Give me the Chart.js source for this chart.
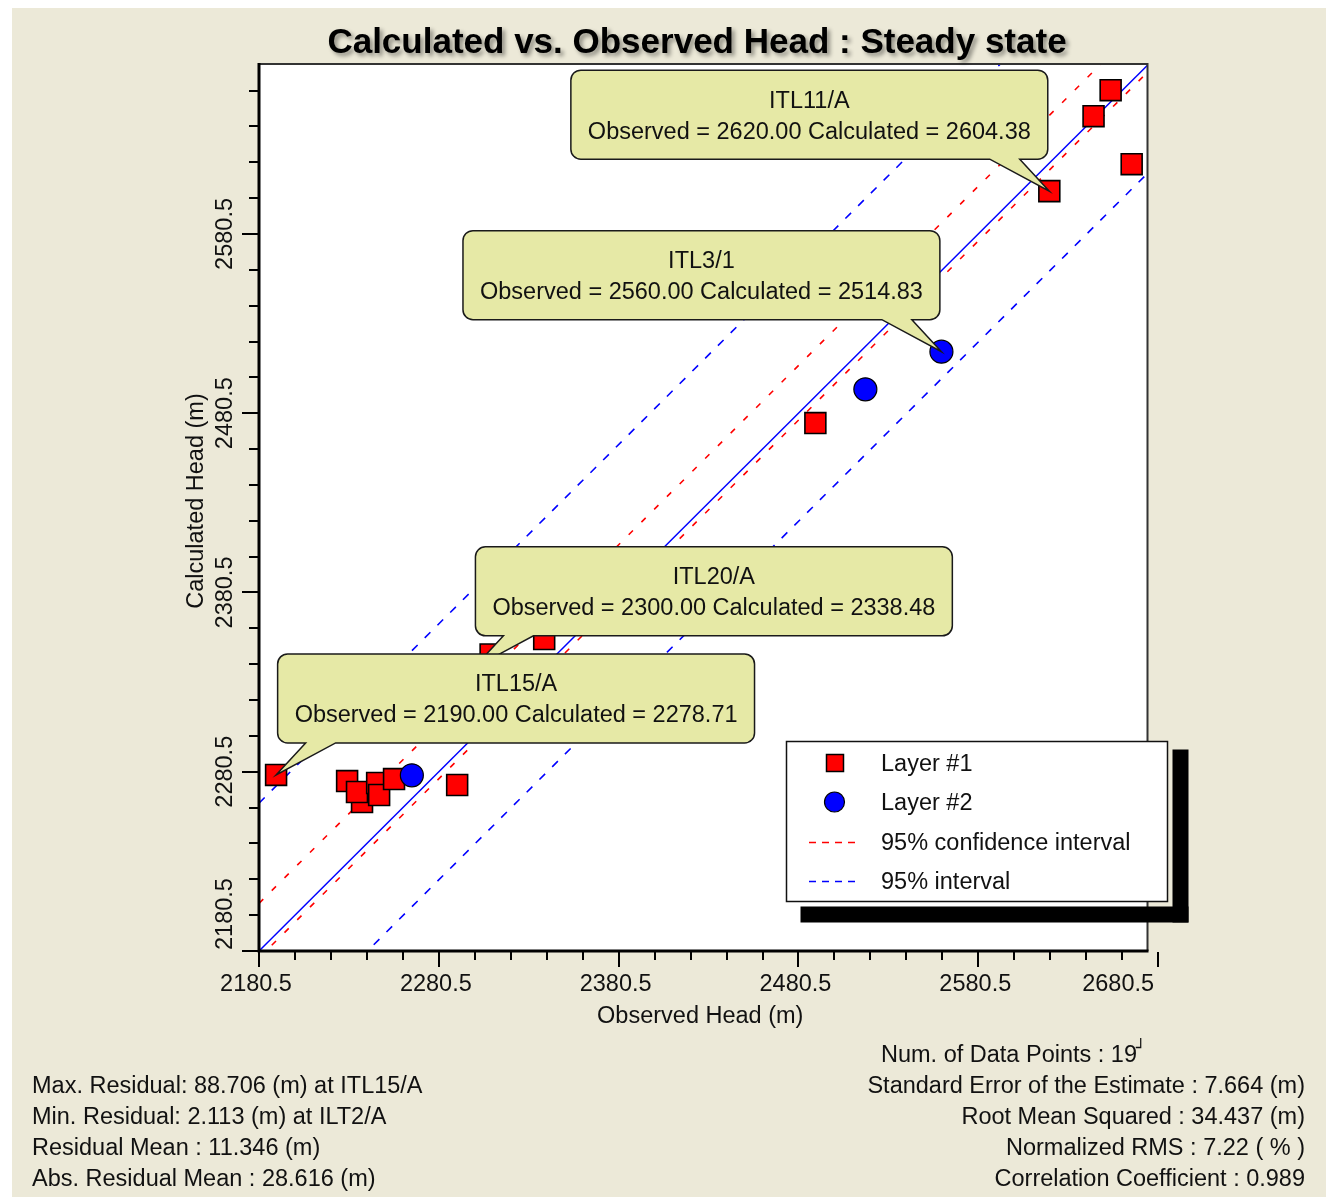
<!DOCTYPE html>
<html>
<head>
<meta charset="utf-8">
<title>Calculated vs. Observed Head : Steady state</title>
<script src="https://cdn.jsdelivr.net/npm/chart.js@4.4.1/dist/chart.umd.min.js"></script>
<style>
  html, body { margin: 0; padding: 0; background: #ffffff; }
  #wrap { width: 1329px; height: 1197px; }
  canvas { display: block; }
</style>
</head>
<body>
<div id="wrap"><canvas id="chart" width="1329" height="1197"></canvas></div>
<script>
// ---- Head targets (m): observed vs. calculated, steady state ----
const layer1Wells      = [null, 'ITL15/A', null, null, null, null, null, null, 'ITL20/A', null, null, null, 'ITL11/A', null, null, null];
const layer1Observed   = [2237.8, 2190.00, 2229.5, 2235.0, 2246.2, 2247.3, 2255.6, 2290.7, 2300.00, 2309.3, 2339.1, 2489.9, 2620.00, 2644.6, 2654.1, 2665.8];
const layer1Calculated = [2263.6, 2278.71, 2275.3, 2269.2, 2274.2, 2267.5, 2276.4, 2273.1, 2338.48, 2345.9, 2354.5, 2475.0, 2604.38, 2646.2, 2660.7, 2619.4];

const layer2Wells      = [null, null, 'ITL3/1'];
const layer2Observed   = [2265.5, 2517.7, 2560.00];
const layer2Calculated = [2278.5, 2493.8, 2514.83];

// offsets of the interval lines from the 1:1 line (m)
const confidenceOffsets = [26.6, -3.9];
const intervalOffsets   = [82.5, -60.3];

// axes
const xRange = [2180.5, 2674.6];
const yRange = [2180.5, 2675.3];
const xTickLabels = ['2180.5', '2280.5', '2380.5', '2480.5', '2580.5', '2680.5'];
const yTickLabels = ['2180.5', '2280.5', '2380.5', '2480.5', '2580.5'];
const minorStep = 20;

// wells that carry a label, in drawing order
const calloutWells = ['ITL11/A', 'ITL3/1', 'ITL20/A', 'ITL15/A'];

const legendLabels = ['Layer #1', 'Layer #2', '95% confidence interval', '95% interval'];

const statsLeft = [
  'Max. Residual: 88.706 (m) at ITL15/A',
  'Min. Residual: 2.113 (m) at ILT2/A',
  'Residual Mean : 11.346 (m)',
  'Abs. Residual Mean : 28.616 (m)'
];
const statsPointCount = 'Num. of Data Points : 19';
const statsRight = [
  'Standard Error of the Estimate : 7.664 (m)',
  'Root Mean Squared : 34.437 (m)',
  'Normalized RMS : 7.22 ( % )',
  'Correlation Coefficient : 0.989'
];

const titleText = 'Calculated vs. Observed Head : Steady state';
const xTitle = 'Observed Head (m)';
const yTitle = 'Calculated Head (m)';

// ---- styling ----
const FONT = '"Liberation Sans", Arial, Helvetica, sans-serif';
const TXT = 23.5;
const RED = '#ff0000';
const BLUE = '#0000ff';
const CALLOUT_FILL = '#e6e9a6';
const PANEL = '#ece9d8';

function pts(xs, ys) { return xs.map((x, i) => ({ x, y: ys[i] })); }
const lineX = [parseFloat(xTickLabels[0]), parseFloat(xTickLabels[xTickLabels.length - 1])];
function offsetLine(label, off, color, dash) {
  return {
    label, data: lineX.map(x => ({ x, y: x + off })),
    showLine: true, borderColor: color, borderWidth: 1.6, borderDash: dash,
    pointRadius: 0, fill: false, order: 3, clip: 0
  };
}

function font(size, bold) { return (bold ? 'bold ' : '') + size + 'px ' + FONT; }

function drawCallout(ctx, chart, name, obs, calc) {
  const xs = chart.scales.x, ys = chart.scales.y, area = chart.chartArea;
  const px = xs.getPixelForValue(obs), py = ys.getPixelForValue(calc);
  const line1 = name;
  const line2 = 'Observed = ' + obs.toFixed(2) + ' Calculated = ' + calc.toFixed(2);
  ctx.font = font(TXT);
  const w = Math.max(ctx.measureText(line1).width, ctx.measureText(line2).width) + 34;
  const h = 89;
  const toRight = px < (area.left + area.right) / 2;
  const cx = px + (toRight ? 240 : -240);
  const x = cx - w / 2, y = py - 76.5 - h / 2;
  const b1 = toRight ? x + 28 : x + w - 58;
  const b2 = b1 + 30;
  const r = 10;
  ctx.beginPath();
  ctx.moveTo(x + r, y);
  ctx.lineTo(x + w - r, y);
  ctx.arcTo(x + w, y, x + w, y + r, r);
  ctx.lineTo(x + w, y + h - r);
  ctx.arcTo(x + w, y + h, x + w - r, y + h, r);
  ctx.lineTo(b2, y + h);
  ctx.lineTo(px, py);
  ctx.lineTo(b1, y + h);
  ctx.lineTo(x + r, y + h);
  ctx.arcTo(x, y + h, x, y + h - r, r);
  ctx.lineTo(x, y + r);
  ctx.arcTo(x, y, x + r, y, r);
  ctx.closePath();
  ctx.fillStyle = CALLOUT_FILL;
  ctx.fill();
  ctx.lineWidth = 1.5;
  ctx.strokeStyle = '#1a1a1a';
  ctx.stroke();
  ctx.fillStyle = '#111';
  ctx.textAlign = 'center';
  ctx.textBaseline = 'alphabetic';
  const capHalf = 0.716 * TXT / 2;
  ctx.fillText(line1, cx, y + 29 + capHalf);
  ctx.fillText(line2, cx, y + 60 + capHalf);
}

const overlay = {
  id: 'overlay',
  beforeDraw(chart) {
    const { ctx, chartArea: a } = chart;
    ctx.save();
    ctx.fillStyle = '#ffffff';
    ctx.fillRect(0, 0, chart.width, chart.height);
    ctx.fillStyle = PANEL;
    ctx.fillRect(12, 8, 1314, 1189);
    ctx.fillStyle = '#ffffff';
    ctx.fillRect(a.left, a.top, a.right - a.left, a.bottom - a.top);
    ctx.restore();
  },
  afterDraw(chart) {
    const { ctx, chartArea: a } = chart;
    const xs = chart.scales.x, ys = chart.scales.y;
    const capHalf = 0.716 * TXT / 2;
    ctx.save();

    // plot frame
    ctx.strokeStyle = '#333';
    ctx.lineWidth = 2;
    ctx.beginPath();
    ctx.moveTo(a.left, a.top); ctx.lineTo(a.right, a.top); ctx.lineTo(a.right, a.bottom);
    ctx.stroke();
    ctx.strokeStyle = '#000';
    ctx.lineWidth = 3;
    ctx.beginPath();
    ctx.moveTo(a.left, a.top - 1); ctx.lineTo(a.left, a.bottom); ctx.lineTo(a.right + 1, a.bottom);
    ctx.stroke();

    // ticks
    const xMajor = xTickLabels.map(parseFloat);
    const yMajor = yTickLabels.map(parseFloat);
    ctx.lineWidth = 2;
    ctx.strokeStyle = '#000';
    for (let v = xMajor[0]; v <= xMajor[xMajor.length - 1] + 1e-6; v += minorStep) {
      const major = xMajor.some(m => Math.abs(m - v) < 1e-6);
      const p = Math.round(xs.getPixelForValue(v));
      ctx.beginPath();
      ctx.moveTo(p, a.bottom + 1);
      ctx.lineTo(p, a.bottom + (major ? 16 : 9));
      ctx.stroke();
    }
    for (let v = yMajor[0]; v <= yRange[1]; v += minorStep) {
      const major = yMajor.some(m => Math.abs(m - v) < 1e-6);
      const p = Math.round(ys.getPixelForValue(v));
      ctx.beginPath();
      ctx.moveTo(a.left - 1, p);
      ctx.lineTo(a.left - (major ? 17 : 10), p);
      ctx.stroke();
    }

    // tick labels
    ctx.fillStyle = '#111';
    ctx.font = font(TXT);
    ctx.textBaseline = 'alphabetic';
    xTickLabels.forEach((t, i) => {
      const p = xs.getPixelForValue(xMajor[i]);
      if (i === xTickLabels.length - 1) {
        ctx.textAlign = 'right';
        ctx.fillText(t, p - 4, 983 + capHalf);
      } else {
        ctx.textAlign = 'center';
        ctx.fillText(t, p - 3, 983 + capHalf);
      }
    });
    yTickLabels.forEach((t, i) => {
      const p = ys.getPixelForValue(yMajor[i]);
      ctx.save();
      ctx.translate(224 + capHalf, i === 0 ? p - 1 : p);
      ctx.rotate(-Math.PI / 2);
      ctx.textAlign = i === 0 ? 'left' : 'center';
      ctx.fillText(t, 0, 0);
      ctx.restore();
    });

    // axis titles
    ctx.textAlign = 'center';
    ctx.fillText(xTitle, (a.left + a.right) / 2 - 3, 1015 + capHalf);
    ctx.save();
    ctx.translate(195 + capHalf, 501);
    ctx.rotate(-Math.PI / 2);
    ctx.fillText(yTitle, 0, 0);
    ctx.restore();

    // labelled wells
    const lookup = {};
    layer1Wells.forEach((n, i) => { if (n) lookup[n] = [layer1Observed[i], layer1Calculated[i]]; });
    layer2Wells.forEach((n, i) => { if (n) lookup[n] = [layer2Observed[i], layer2Calculated[i]]; });
    calloutWells.forEach(n => drawCallout(ctx, chart, n, lookup[n][0], lookup[n][1]));

    // legend
    ctx.fillStyle = '#000';
    ctx.fillRect(1172.5, 749.5, 16, 173);
    ctx.fillRect(800.5, 906.5, 388, 16);
    ctx.fillStyle = '#fff';
    ctx.fillRect(786.5, 741.5, 381, 160);
    ctx.strokeStyle = '#111';
    ctx.lineWidth = 1.5;
    ctx.strokeRect(786.5, 741.5, 381, 160);
    const rows = [763, 802, 842, 881];
    // markers / line samples
    ctx.fillStyle = RED; ctx.strokeStyle = '#000'; ctx.lineWidth = 1.5;
    ctx.fillRect(826.5, rows[0] - 8.5, 17, 17); ctx.strokeRect(826.5, rows[0] - 8.5, 17, 17);
    ctx.beginPath(); ctx.arc(834.5, rows[1], 10, 0, Math.PI * 2);
    ctx.fillStyle = BLUE; ctx.fill(); ctx.lineWidth = 1.2; ctx.stroke();
    ctx.lineWidth = 1.6;
    ctx.setLineDash([7, 6]);
    ctx.strokeStyle = RED;
    ctx.beginPath(); ctx.moveTo(809, rows[2] + 0.5); ctx.lineTo(858, rows[2] + 0.5); ctx.stroke();
    ctx.strokeStyle = BLUE;
    ctx.beginPath(); ctx.moveTo(809, rows[3] + 0.5); ctx.lineTo(858, rows[3] + 0.5); ctx.stroke();
    ctx.setLineDash([]);
    ctx.fillStyle = '#111';
    ctx.font = font(TXT);
    ctx.textAlign = 'left';
    legendLabels.forEach((t, i) => ctx.fillText(t, 881, rows[i] + capHalf));

    // statistics
    statsLeft.forEach((t, i) => ctx.fillText(t, 32, 1085 + 31 * i + capHalf));
    ctx.fillText(statsPointCount, 881, 1054 + capHalf);
    const endX = 881 + ctx.measureText(statsPointCount).width;
    ctx.font = '16px "DejaVu Sans", sans-serif';
    ctx.fillText('\u2518', endX - 1, 1054 - 1);
    ctx.font = font(TXT);
    ctx.textAlign = 'right';
    statsRight.forEach((t, i) => ctx.fillText(t, 1305, 1085 + 31 * i + capHalf));

    // title with drop shadow
    ctx.font = font(35, true);
    ctx.textAlign = 'center';
    ctx.shadowColor = 'rgba(0,0,0,0.4)';
    ctx.shadowOffsetX = 3;
    ctx.shadowOffsetY = 3;
    ctx.shadowBlur = 4;
    ctx.fillStyle = '#000';
    ctx.fillText(titleText, 697, 40 + 0.716 * 35 / 2);
    ctx.restore();
  }
};

new Chart(document.getElementById('chart'), {
  type: 'scatter',
  data: {
    datasets: [
      {
        label: legendLabels[1],
        data: pts(layer2Observed, layer2Calculated),
        pointStyle: 'circle', pointRadius: 11.5, backgroundColor: BLUE,
        borderColor: '#000', borderWidth: 1.2, order: 0, clip: false
      },
      {
        label: legendLabels[0],
        data: pts(layer1Observed, layer1Calculated),
        pointStyle: 'rect', pointRadius: 14.8, backgroundColor: RED,
        borderColor: '#000', borderWidth: 1.6, order: 1, clip: false
      },
      Object.assign(offsetLine('1:1', 0, BLUE, []), { borderWidth: 1.5 }),
      offsetLine(legendLabels[2] + ' +', confidenceOffsets[0], RED, [6, 12]),
      offsetLine(legendLabels[2] + ' -', confidenceOffsets[1], RED, [6, 12]),
      offsetLine(legendLabels[3] + ' +', intervalOffsets[0], BLUE, [8, 10]),
      offsetLine(legendLabels[3] + ' -', intervalOffsets[1], BLUE, [8, 10])
    ]
  },
  options: {
    responsive: false,
    animation: false,
    devicePixelRatio: 1,
    events: [],
    layout: { padding: { left: 259, top: 64, right: 1329 - 1147.5, bottom: 1197 - 951 } },
    scales: {
      x: { type: 'linear', min: xRange[0], max: xRange[1], display: false },
      y: { type: 'linear', min: yRange[0], max: yRange[1], display: false }
    },
    plugins: {
      legend: { display: false },
      tooltip: { enabled: false },
      title: { display: false }
    }
  },
  plugins: [overlay]
});
</script>
</body>
</html>
